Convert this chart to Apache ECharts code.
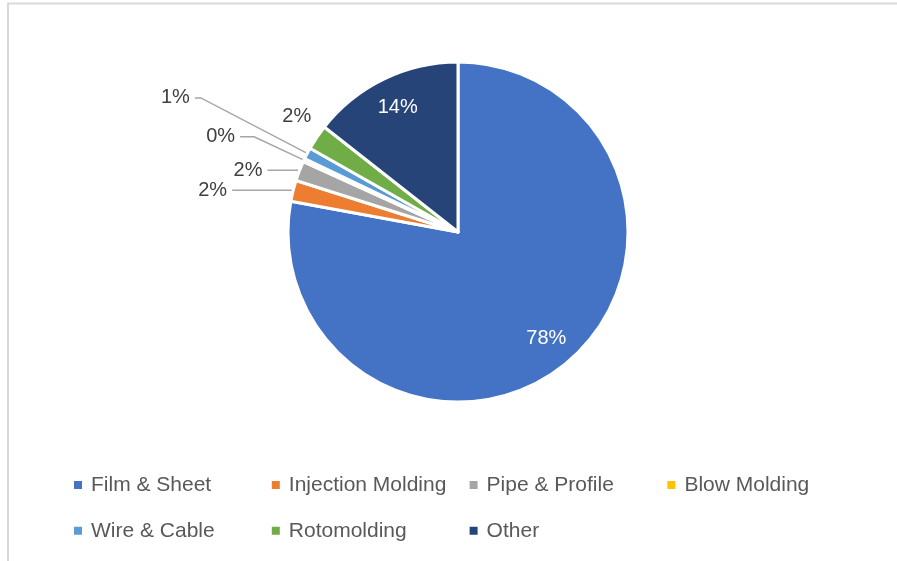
<!DOCTYPE html>
<html>
<head>
<meta charset="utf-8">
<script src="https://cdn.jsdelivr.net/npm/echarts@6/dist/echarts.min.js"></script>
<style>
  html, body { margin: 0; padding: 0; background: #fff; }
  #chart { width: 897px; height: 561px; }
</style>
</head>
<body>
<div id="chart"></div>
<script>
// market share by end use (%)
const categories = ['Film & Sheet', 'Injection Molding', 'Pipe & Profile', 'Blow Molding', 'Wire & Cable', 'Rotomolding', 'Other'];
const shares = [77.9, 2.0, 1.9, 0.3, 1.1, 2.4, 14.4];
const colors = ['#4472c4', '#ed7d31', '#a5a5a5', '#ffc000', '#5b9bd5', '#70ad47', '#264478'];
// which slices carry their label inside
const insideLabel = ['Film & Sheet', 'Other'];
// leader line lengths for the outside labels (first leg, second leg)
const leaderLen = { 'Injection Molding': [2, 59], 'Pipe & Profile': [2, 30], 'Blow Molding': [55, 14], 'Wire & Cable': [120, 6], 'Rotomolding': [20, 0] };
const hiddenLeader = ['Rotomolding'];

const font = 'Liberation Sans';

const chart = echarts.init(document.getElementById('chart'));

const option = {
  animation: false,
  color: colors,
  graphic: [{
    type: 'rect',
    shape: { x: 8, y: 3.5, width: 1000, height: 700 },
    style: { fill: 'none', stroke: '#d9d9d9', lineWidth: 2 },
    silent: true
  }],
  legend: {
    data: categories,
    left: 72,
    top: 471.5,
    padding: 0,
    width: 800,
    icon: 'rect',
    itemWidth: 10,
    itemHeight: 10,
    itemGap: 18.8,
    textStyle: {
      fontFamily: font,
      fontSize: 21,
      color: '#595959',
      width: 160,
      lineHeight: 27,
      padding: [0, 0, 0, 3]
    }
  },
  series: [
    {
      type: 'pie',
      center: [458, 232],
      radius: ['0%', 170],
      startAngle: 90,
      clockwise: true,
      avoidLabelOverlap: false,
      itemStyle: { borderColor: '#fff', borderWidth: 3 },
      label: {
        position: 'outside',
        formatter: p => Math.round(p.value) + '%',
        fontFamily: font,
        fontSize: 20,
        color: '#404040'
      },
      labelLine: {
        lineStyle: { color: '#a6a6a6', width: 1.5 }
      },
      // the rotomolding label sits right above its slice, without a leader
      labelLayout: p => (categories[p.dataIndex] === 'Rotomolding' ? { dx: 16, dy: -10 } : {}),
      emphasis: { disabled: true },
      data: categories.map((name, i) => {
        const inside = insideLabel.indexOf(name) >= 0;
        const len = leaderLen[name] || [0, 0];
        return {
          name,
          value: shares[i],
          label: { show: !inside },
          labelLine: {
            show: !inside,
            length: len[0],
            length2: len[1],
            lineStyle: { opacity: hiddenLeader.indexOf(name) >= 0 ? 0 : 1 }
          }
        };
      })
    },
    {
      // transparent ring only used to place the inside labels further out
      type: 'pie',
      center: [458, 232],
      radius: [100, 170],
      startAngle: 90,
      clockwise: true,
      silent: true,
      itemStyle: { color: 'rgba(0,0,0,0)' },
      label: {
        position: 'inside',
        formatter: p => Math.round(p.value) + '%',
        fontFamily: font,
        fontSize: 20,
        color: '#fff'
      },
      labelLine: { show: false },
      emphasis: { disabled: true },
      data: categories.map((name, i) => ({
        name,
        value: shares[i],
        label: { show: insideLabel.indexOf(name) >= 0 }
      }))
    }
  ]
};

chart.setOption(option);
</script>
</body>
</html>
